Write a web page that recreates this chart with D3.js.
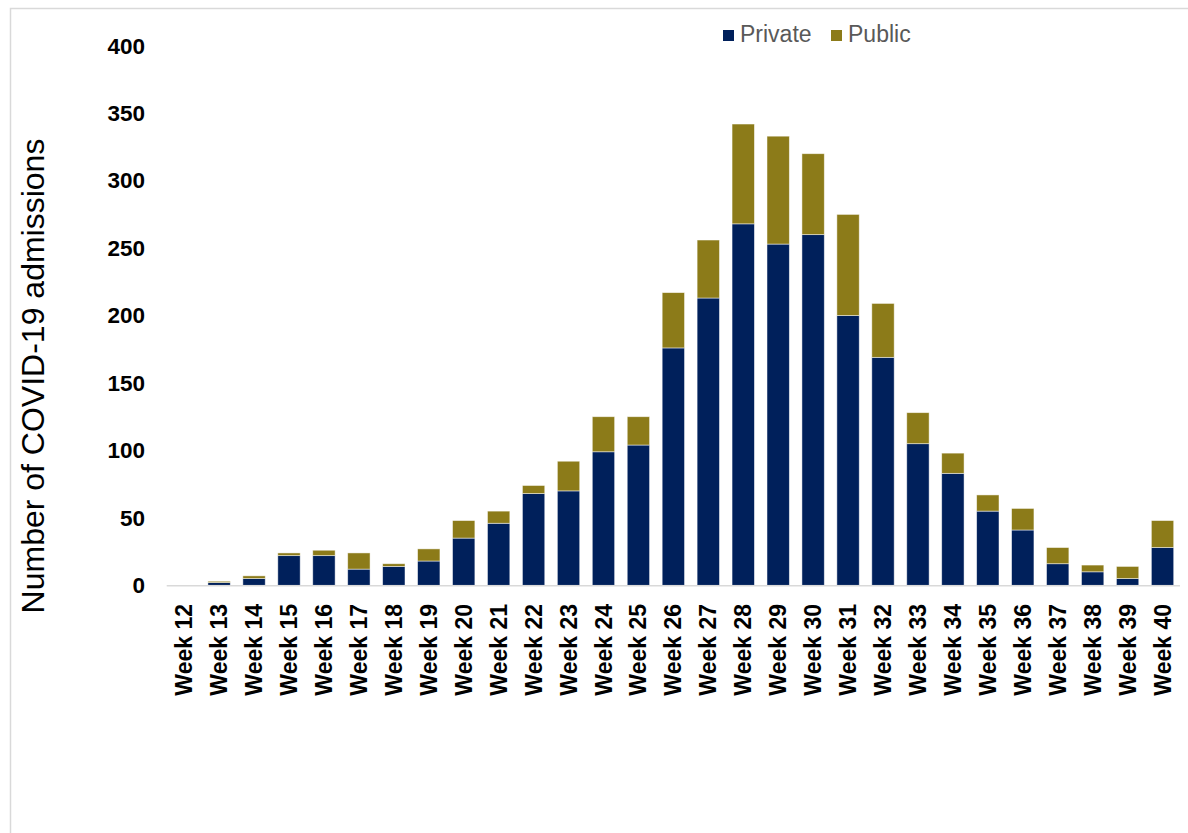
<!DOCTYPE html>
<html>
<head>
<meta charset="utf-8">
<script src="https://cdn.jsdelivr.net/npm/d3@7"></script>
<style>
  body { margin: 0; background: #fff; }
  svg { display: block; font-family: Arial, "Liberation Sans", sans-serif; }
</style>
</head>
<body>
<div id="chart"></div>
<script>
// weekly covid-19 admissions, private vs public sector
var weeks = ["Week 12","Week 13","Week 14","Week 15","Week 16","Week 17","Week 18","Week 19",
             "Week 20","Week 21","Week 22","Week 23","Week 24","Week 25","Week 26","Week 27",
             "Week 28","Week 29","Week 30","Week 31","Week 32","Week 33","Week 34","Week 35",
             "Week 36","Week 37","Week 38","Week 39","Week 40"];

var privateVals = [0, 2, 5, 22, 22, 12, 14, 18, 35, 46, 68, 70, 99, 104, 176, 213,
                   268, 253, 260, 200, 169, 105, 83, 55, 41, 16, 10, 5, 28];

var publicVals  = [0, 1, 2, 2, 4, 12, 2, 9, 13, 9, 6, 22, 26, 21, 41, 43,
                   74, 80, 60, 75, 40, 23, 15, 12, 16, 12, 5, 9, 20];

var seriesNames = ["Private", "Public"];
var seriesColors = ["#00205b", "#8c7b19"];

var yTicks = [0, 50, 100, 150, 200, 250, 300, 350, 400];

var W = 1188, H = 833;

var svg = d3.select("#chart").append("svg")
	.attr("width", W)
	.attr("height", H);

// outer frame (only top/left visible in the original crop)
svg.append("rect")
	.attr("x", 10.5)
	.attr("y", 8.5)
	.attr("width", W + 20)
	.attr("height", H + 20)
	.attr("fill", "none")
	.attr("stroke", "#d9d9d9")
	.attr("stroke-width", 1.5);

var x = d3.scaleBand()
	.domain(weeks)
	.range([166.7, 1180])
	.paddingInner(0.36)
	.paddingOuter(0.18);

var y = d3.scaleLinear()
	.domain([0, 400])
	.range([585.3, 45.8]);

var rows = weeks.map(function(w, i){
	return { week: w, Private: privateVals[i], Public: publicVals[i] };
});

var stacked = d3.stack().keys(seriesNames)(rows);

svg.append("g")
  .selectAll("g")
	.data(stacked)
	.join("g")
	.attr("fill", function(d, i){ return seriesColors[i]; })
  .selectAll("rect")
	.data(function(d){ return d; })
	.join("rect")
	.attr("x", function(d){ return x(d.data.week); })
	.attr("width", x.bandwidth())
	.attr("y", function(d){ return y(d[1]); })
	.attr("height", function(d){ return Math.max(0, y(d[0]) - y(d[1])); })
	.attr("stroke", "#ffffff")
	.attr("stroke-opacity", 0.6)
	.attr("stroke-width", 0.8);

// baseline
svg.append("line")
	.attr("x1", 166.7)
	.attr("x2", 1180)
	.attr("y1", y(0) + 0.5)
	.attr("y2", y(0) + 0.5)
	.attr("stroke", "#d9d9d9")
	.attr("stroke-width", 1.5);

// y axis, labels only
var yAxis = d3.axisLeft(y).tickValues(yTicks).tickSize(0).tickPadding(0);
var yg = svg.append("g")
	.attr("transform", "translate(145,0)")
	.call(yAxis);
yg.select(".domain").remove();
yg.selectAll("text")
	.attr("font-family", "Arial, 'Liberation Sans', sans-serif")
	.attr("font-size", 22.5)
	.attr("font-weight", "bold")
	.attr("fill", "#000");

// x axis, rotated labels
var xAxis = d3.axisBottom(x).tickSize(0).tickPadding(0);
var xg = svg.append("g")
	.attr("transform", "translate(0,604)")
	.call(xAxis);
xg.select(".domain").remove();
xg.selectAll("text")
	.attr("font-family", "Arial, 'Liberation Sans', sans-serif")
	.attr("font-size", 23)
	.attr("font-weight", "bold")
	.attr("fill", "#000")
	.attr("text-anchor", "end")
	.attr("dy", "0.35em")
	.attr("y", 0)
	.attr("x", 0)
	.attr("transform", "rotate(-90)");

// y axis title
svg.append("text")
	.attr("transform", "translate(44,376) rotate(-90)")
	.attr("text-anchor", "middle")
	.attr("font-size", 32)
	.attr("fill", "#000")
	.text("Number of COVID-19 admissions");

// legend
var legendX = [723, 831];
var legend = svg.append("g");
seriesNames.forEach(function(name, i){
	legend.append("rect")
		.attr("x", legendX[i])
		.attr("y", 30)
		.attr("width", 11)
		.attr("height", 11)
		.attr("fill", seriesColors[i]);
	legend.append("text")
		.attr("x", legendX[i] + 17)
		.attr("y", 42)
		.attr("font-size", 23)
		.attr("fill", "#595959")
		.text(name);
});
</script>
</body>
</html>
